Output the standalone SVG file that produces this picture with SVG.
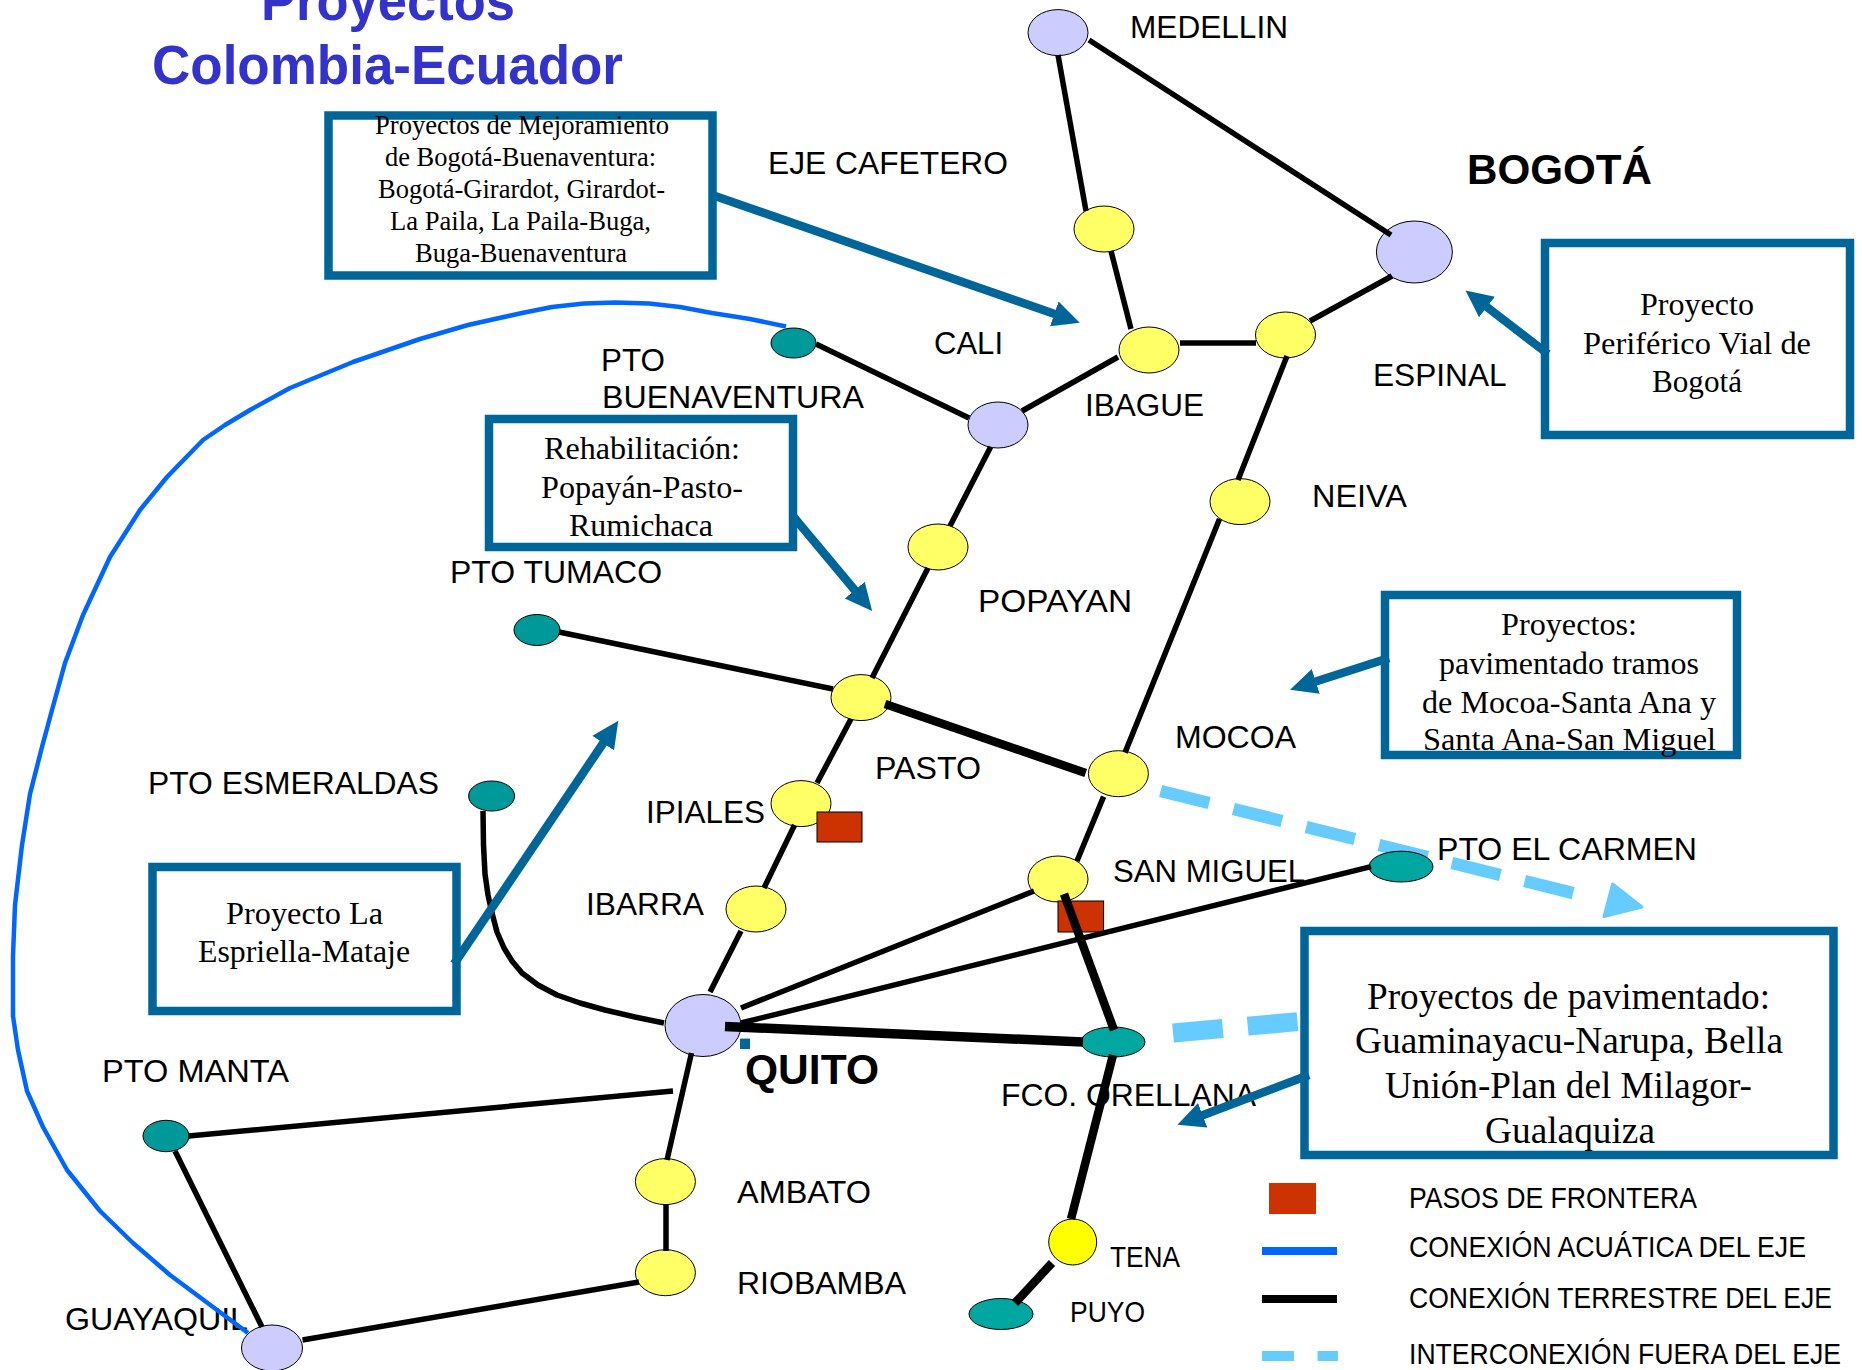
<svg xmlns="http://www.w3.org/2000/svg" width="1862" height="1370" viewBox="0 0 1862 1370">
<style>
text{fill:#000}
.l{font:32px "Liberation Sans",Arial,sans-serif}
.s{font:29px "Liberation Sans",Arial,sans-serif}
.b{font:bold 43px "Liberation Sans",Arial,sans-serif}
.t{font:bold 56px "Liberation Sans",Arial,sans-serif;fill:#3333CC}
.n1{font:28px "Liberation Serif","Times New Roman",serif}
.n2{font:32px "Liberation Serif","Times New Roman",serif}
.n3{font:37px "Liberation Serif","Times New Roman",serif}
.box{fill:#fff;stroke:#006699;stroke-width:8.5}
.lav{fill:#CCCCFF;stroke:#000;stroke-width:1}
.yel{fill:#FFFF66;stroke:#000;stroke-width:1}
.tea{fill:#009999;stroke:#000;stroke-width:1}
.tea2{fill:#00A6A0;stroke:#000;stroke-width:1}
.red{fill:#CC3300;stroke:#000;stroke-width:1}
.c{stroke:#000;stroke-width:5.5;fill:none}
.k{stroke:#000;stroke-width:8.5;fill:none}
.a{stroke:#006699;stroke-width:8.5;fill:none;marker-end:url(#ah)}
.d{stroke:#66CCFF;fill:none}
</style>
<defs>
<marker id="ah" markerUnits="userSpaceOnUse" markerWidth="30" markerHeight="30" viewBox="0 0 30 30" refX="5" refY="15" orient="auto">
<path d="M0,2 L27,15 L0,28 Z" fill="#006699"/>
</marker>
</defs>

<g id="interconexion">
<path class="d" stroke-width="12.5" stroke-dasharray="50 25" d="M1160.6,791 L1581,895"/>
<path d="M1642,907 L1612.6,884 L1604,916.6 Z" fill="#66CCFF" stroke="#66CCFF" stroke-width="3" stroke-linejoin="round"/>
<path class="d" stroke-width="19" stroke-dasharray="50 25" d="M1173,1033 L1304,1021"/>
</g>

<g id="titulo">
<text class="t" x="261" y="20" textLength="254" lengthAdjust="spacingAndGlyphs">Proyectos</text>
<text class="t" x="152" y="84" textLength="471" lengthAdjust="spacingAndGlyphs">Colombia-Ecuador</text>
</g>

<g id="n-medellin"><ellipse class="lav" cx="1058" cy="32.6" rx="30" ry="23"/><text class="l" x="1130" y="38" textLength="158" lengthAdjust="spacingAndGlyphs">MEDELLIN</text></g>
<g id="n-bogota"><ellipse class="lav" cx="1414.4" cy="252" rx="38" ry="31"/><text class="b" x="1467" y="184" textLength="185" lengthAdjust="spacingAndGlyphs">BOGOTÁ</text></g>
<g id="n-eje-cafetero"><ellipse class="yel" cx="1104" cy="229" rx="30" ry="23"/><text class="l" x="768" y="174" textLength="240" lengthAdjust="spacingAndGlyphs">EJE CAFETERO</text></g>
<g id="n-ibague"><ellipse class="yel" cx="1149" cy="350" rx="30" ry="23"/><text class="l" x="1085" y="416" textLength="119" lengthAdjust="spacingAndGlyphs">IBAGUE</text></g>
<g id="n-espinal"><ellipse class="yel" cx="1285.5" cy="335" rx="30" ry="23"/><text class="l" x="1373" y="386" textLength="133.6" lengthAdjust="spacingAndGlyphs">ESPINAL</text></g>
<g id="n-cali"><ellipse class="lav" cx="998" cy="425" rx="30" ry="23"/><text class="l" x="934" y="354" textLength="69" lengthAdjust="spacingAndGlyphs">CALI</text></g>
<g id="n-neiva"><ellipse class="yel" cx="1240" cy="501.6" rx="30" ry="23"/><text class="l" x="1312" y="507" textLength="95" lengthAdjust="spacingAndGlyphs">NEIVA</text></g>
<g id="n-popayan"><ellipse class="yel" cx="938" cy="547" rx="30" ry="23"/><text class="l" x="978" y="612" textLength="154" lengthAdjust="spacingAndGlyphs">POPAYAN</text></g>
<g id="n-buenaventura"><ellipse class="tea" cx="793.5" cy="343" rx="22.5" ry="15"/><text class="l" x="601" y="371" textLength="64" lengthAdjust="spacingAndGlyphs">PTO</text><text class="l" x="602" y="408" textLength="262" lengthAdjust="spacingAndGlyphs">BUENAVENTURA</text></g>
<g id="n-tumaco"><ellipse class="tea" cx="537" cy="630" rx="23" ry="15.5"/><text class="l" x="450" y="583" textLength="212" lengthAdjust="spacingAndGlyphs">PTO TUMACO</text></g>
<g id="n-pasto"><ellipse class="yel" cx="861" cy="697.6" rx="30" ry="23"/><text class="l" x="875" y="779" textLength="106" lengthAdjust="spacingAndGlyphs">PASTO</text></g>
<g id="n-esmeraldas"><ellipse class="tea" cx="491.6" cy="796" rx="23" ry="15"/><text class="l" x="148" y="794" textLength="291" lengthAdjust="spacingAndGlyphs">PTO ESMERALDAS</text></g>
<g id="n-ipiales"><ellipse class="yel" cx="801" cy="803.6" rx="30" ry="23"/><text class="l" x="646" y="823" textLength="119" lengthAdjust="spacingAndGlyphs">IPIALES</text></g>
<g id="n-ibarra"><ellipse class="yel" cx="756" cy="909" rx="30" ry="23"/><text class="l" x="586" y="915" textLength="118" lengthAdjust="spacingAndGlyphs">IBARRA</text></g>
<g id="n-quito"><ellipse class="lav" cx="703" cy="1025.5" rx="38" ry="31"/><text class="b" x="745" y="1084" textLength="134" lengthAdjust="spacingAndGlyphs">QUITO</text></g>
<g id="n-manta"><ellipse class="tea" cx="166" cy="1136" rx="23" ry="15.7"/><text class="l" x="102" y="1082" textLength="187" lengthAdjust="spacingAndGlyphs">PTO MANTA</text></g>
<g id="n-ambato"><ellipse class="yel" cx="665.4" cy="1181.6" rx="30" ry="23"/><text class="l" x="737" y="1202.5" textLength="134" lengthAdjust="spacingAndGlyphs">AMBATO</text></g>
<g id="n-riobamba"><ellipse class="yel" cx="665.4" cy="1272.7" rx="30" ry="23"/><text class="l" x="737" y="1294" textLength="169" lengthAdjust="spacingAndGlyphs">RIOBAMBA</text></g>
<g id="n-guayaquil"><ellipse class="lav" cx="272" cy="1348" rx="30.5" ry="23"/><text class="l" x="65" y="1330" textLength="183" lengthAdjust="spacingAndGlyphs">GUAYAQUIL</text></g>
<g id="n-mocoa"><ellipse class="yel" cx="1118.4" cy="773.7" rx="30" ry="23"/><text class="l" x="1175" y="748" textLength="121" lengthAdjust="spacingAndGlyphs">MOCOA</text></g>
<g id="n-san-miguel"><ellipse class="yel" cx="1058" cy="879" rx="30" ry="23"/><text class="l" x="1113" y="882" textLength="192" lengthAdjust="spacingAndGlyphs">SAN MIGUEL</text></g>
<g id="n-el-carmen"><ellipse class="tea2" cx="1401" cy="866.6" rx="32" ry="15.4"/><text class="l" x="1437" y="860" textLength="260" lengthAdjust="spacingAndGlyphs">PTO EL CARMEN</text></g>
<g id="n-orellana"><ellipse class="tea2" cx="1113" cy="1042" rx="32" ry="15"/><text class="l" x="1001" y="1105.5" textLength="255" lengthAdjust="spacingAndGlyphs">FCO. ORELLANA</text></g>
<g id="n-tena"><ellipse cx="1072.7" cy="1242" rx="24" ry="23" fill="#FFFF00" stroke="#000"/><text class="s" x="1110" y="1267" textLength="70" lengthAdjust="spacingAndGlyphs">TENA</text></g>
<g id="n-puyo"><ellipse class="tea2" cx="1001" cy="1314" rx="32" ry="15.5"/><text class="s" x="1070" y="1322" textLength="75" lengthAdjust="spacingAndGlyphs">PUYO</text></g>
<g id="paso-ipiales"><rect class="red" x="817" y="812" width="45" height="30"/></g>
<g id="paso-san-miguel"><rect class="red" x="1058" y="901" width="45.6" height="31"/></g>
<g id="marca-quito"><rect x="740" y="1038.6" width="10" height="10.4" fill="#006699"/></g>

<g id="box-mejoramiento"><rect class="box" x="328.5" y="115.5" width="384" height="160"/>
<text class="n1" x="375" y="134" textLength="294" lengthAdjust="spacingAndGlyphs">Proyectos de Mejoramiento</text>
<text class="n1" x="385" y="166" textLength="271" lengthAdjust="spacingAndGlyphs">de Bogotá-Buenaventura:</text>
<text class="n1" x="378" y="198" textLength="287" lengthAdjust="spacingAndGlyphs">Bogotá-Girardot, Girardot-</text>
<text class="n1" x="390" y="230" textLength="261" lengthAdjust="spacingAndGlyphs">La Paila, La Paila-Buga,</text>
<text class="n1" x="415" y="262" textLength="212" lengthAdjust="spacingAndGlyphs">Buga-Buenaventura</text></g>
<g id="box-rehabilitacion"><rect class="box" x="489" y="419" width="304" height="128"/>
<text class="n2" x="544" y="459" textLength="196" lengthAdjust="spacingAndGlyphs">Rehabilitación:</text>
<text class="n2" x="541" y="497.5" textLength="202" lengthAdjust="spacingAndGlyphs">Popayán-Pasto-</text>
<text class="n2" x="569" y="536" textLength="144" lengthAdjust="spacingAndGlyphs">Rumichaca</text></g>
<g id="box-periferico"><rect class="box" x="1545" y="243" width="305" height="192"/>
<text class="n2" x="1640" y="315" textLength="114" lengthAdjust="spacingAndGlyphs">Proyecto</text>
<text class="n2" x="1583" y="353.5" textLength="228" lengthAdjust="spacingAndGlyphs">Periférico Vial de</text>
<text class="n2" x="1652" y="392" textLength="90" lengthAdjust="spacingAndGlyphs">Bogotá</text></g>
<g id="box-mocoa"><rect class="box" x="1385" y="595" width="352" height="160"/>
<text class="n2" x="1501" y="634.5" textLength="136" lengthAdjust="spacingAndGlyphs">Proyectos:</text>
<text class="n2" x="1439" y="674" textLength="260" lengthAdjust="spacingAndGlyphs">pavimentado tramos</text>
<text class="n2" x="1422" y="712.5" textLength="294" lengthAdjust="spacingAndGlyphs">de Mocoa-Santa Ana y</text>
<text class="n2" x="1423" y="750" textLength="293" lengthAdjust="spacingAndGlyphs">Santa Ana-San Miguel</text></g>
<g id="box-espriella"><rect class="box" x="152.5" y="867" width="304" height="144"/>
<text class="n2" x="226" y="923.5" textLength="157" lengthAdjust="spacingAndGlyphs">Proyecto La</text>
<text class="n2" x="198" y="962" textLength="212" lengthAdjust="spacingAndGlyphs">Espriella-Mataje</text></g>
<g id="box-pavimentado"><rect class="box" x="1304.5" y="931" width="529" height="224"/>
<text class="n3" x="1367" y="1009" textLength="403" lengthAdjust="spacingAndGlyphs">Proyectos de pavimentado:</text>
<text class="n3" x="1355" y="1053" textLength="428" lengthAdjust="spacingAndGlyphs">Guaminayacu-Narupa, Bella</text>
<text class="n3" x="1385" y="1098" textLength="367" lengthAdjust="spacingAndGlyphs">Unión-Plan del Milagor-</text>
<text class="n3" x="1485" y="1142.7" textLength="170" lengthAdjust="spacingAndGlyphs">Gualaquiza</text></g>

<g id="connectors">
<path class="c" d="M1058,55 L1086,211"/>
<path class="c" d="M1089,40 L1391,235"/>
<path class="c" d="M1111,251 L1131,329"/>
<path class="c" d="M1392,276 L1310,321"/>
<path class="c" d="M1180,343 L1256,343"/>
<path class="c" d="M1287,356 L1238,480"/>
<path class="c" d="M1219.5,519 L1125,752.6"/>
<path class="c" d="M1118,357 L1022,411"/>
<path class="c" d="M969,418 L816,344"/>
<path class="c" d="M990.6,447 L950,526"/>
<path class="c" d="M928,568 L872,678"/>
<path class="c" d="M559,632 L833,689"/>
<path class="c" d="M851,719 L817,783"/>
<path class="c" d="M794.6,825 L764,888"/>
<path class="c" d="M741,931 L710,992"/>
<path class="k" d="M885,704 L1085.7,773"/>
<path class="c" d="M1103.6,796.6 L1077,861"/>
<path class="c" d="M1034,891 L741,1008"/>
<path class="c" d="M1371,866.6 L741,1023"/>
<path class="k" d="M725,1026.5 L1083,1042" style="stroke-width:9.5"/>
<path class="k" d="M1064,894 L1114,1030"/>
<path class="k" d="M1113,1055 L1071,1219"/>
<path class="k" d="M1052,1263 L1015,1303"/>
<polyline class="c" stroke-linejoin="round" points="483,811 483.5,845 485,874 488,895 492,913 497,932 504,948 512,961 522,973 538,985 557,995 580,1003 605,1010 635,1017 664,1023"/>
<path class="c" d="M691.5,1053 L667,1160"/>
<path class="c" d="M666,1204 L666,1251"/>
<path class="c" d="M639,1282 L302.5,1340"/>
<path class="c" d="M188.6,1136 L673,1091"/>
<path class="c" d="M175,1151 L262,1327"/>
<polyline fill="none" stroke="#0066FF" stroke-width="4.5" stroke-linejoin="round" points="786,326.5 750,319 712,313 680,307 649,303.6 615,302.6 584,303.6 552,307 522,313 468,325 420,339 353,362 290,388 250,410 225,425 203,440 167,477 140,510 110,557 83,615 65,663 52,710 42,747 30,794 22,845 15,905 13,956 13,1016 18,1050 27,1091 43,1127 67,1170 100,1211 133,1243 170,1275 213,1307 248,1333"/>
<path class="a" d="M715,196 L1059,315.5"/>
<path class="a" d="M792,515 L858,594"/>
<path class="a" d="M1548,354 L1483,304"/>
<path class="a" d="M1389,658 L1311,683"/>
<path class="a" d="M454,964 L606,739"/>
<path class="a" d="M1309,1075 L1198,1117"/>
</g>

<g id="leyenda">
<rect x="1269" y="1183" width="47" height="31" fill="#CC3300"/>
<rect x="1262" y="1247" width="75" height="8" fill="#0066FF"/>
<rect x="1262" y="1295" width="75" height="8" fill="#000"/>
<rect x="1262" y="1351" width="32" height="10" fill="#66CCFF"/>
<rect x="1317.5" y="1351" width="20.5" height="10" fill="#66CCFF"/>
<text class="s" x="1409" y="1208" textLength="288" lengthAdjust="spacingAndGlyphs">PASOS DE FRONTERA</text>
<text class="s" x="1409" y="1257" textLength="397" lengthAdjust="spacingAndGlyphs">CONEXIÓN ACUÁTICA DEL EJE</text>
<text class="s" x="1409" y="1308" textLength="423" lengthAdjust="spacingAndGlyphs">CONEXIÓN TERRESTRE DEL EJE</text>
<text class="s" x="1409" y="1364" textLength="432" lengthAdjust="spacingAndGlyphs">INTERCONEXIÓN FUERA DEL EJE</text>
</g>
</svg>
